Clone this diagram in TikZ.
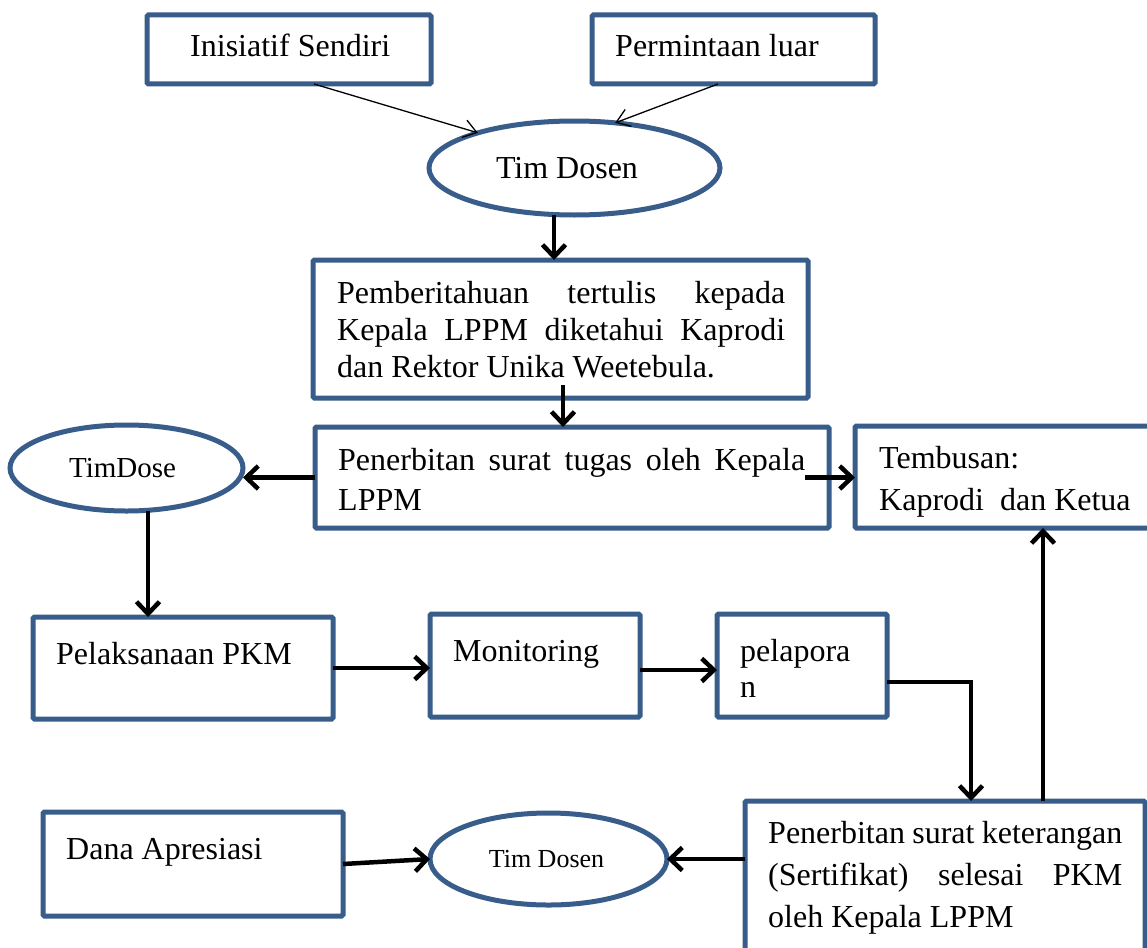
\documentclass[tikz,border=0pt]{standalone}
\usepackage{fontspec}
\setmainfont{Liberation Serif}
\usetikzlibrary{arrows.meta,calc,shapes.geometric}
\definecolor{boxblue}{HTML}{385D8A}
\begin{document}
\begin{tikzpicture}[x=1pt,y=-1pt,
  box/.style={draw=boxblue, line width=5pt, rounded corners=1.5pt, rectangle, anchor=north west, inner sep=0pt, outer sep=0pt},
  ell/.style={draw=boxblue, line width=5pt, ellipse, inner sep=0pt, outer sep=0pt},
  txt/.style={inner sep=0pt, anchor=base west, font=\fontsize{32}{37}\selectfont},
  thinarr/.style={line width=1.3pt, -{Straight Barb[length=13pt,width=18pt]}},
  arr/.style={line width=4.5pt, -{Straight Barb[length=12pt,width=23pt]}}]
\useasboundingbox (0,0) rectangle (1147,947);
\clip (0,0) rectangle (1147,947);
\fill[white] (0,0) rectangle (1147,947);

% boxes
\node[box, minimum width=284pt, minimum height=69pt] (ini) at (147,15) {};
\node[box, minimum width=283pt, minimum height=69pt] (per) at (592,15) {};
\node[box, minimum width=495pt, minimum height=138pt] (pem) at (313,260) {};
\node[box, minimum width=514pt, minimum height=101pt] (tug) at (315,427) {};
\node[box, minimum width=330pt, minimum height=102pt] (tem) at (855,426) {};
\node[box, minimum width=300pt, minimum height=102pt] (pel) at (33,617) {};
\node[box, minimum width=210pt, minimum height=103pt] (mon) at (430,614) {};
\node[box, minimum width=170pt, minimum height=103pt] (lap) at (717,614) {};
\node[box, minimum width=400pt, minimum height=170pt] (cert) at (745,801) {};
\node[box, minimum width=300pt, minimum height=104pt] (dana) at (43,812) {};

% ellipses
\node[ell, minimum width=291pt, minimum height=94pt, font=\fontsize{32}{37}\selectfont] (tim) at (574.5,168) {\kern-15pt Tim Dosen};
\node[ell, minimum width=233pt, minimum height=86pt, font=\fontsize{29}{33}\selectfont] (tdo) at (126.5,468) {\kern-8pt TimDose};
\node[ell, minimum width=237pt, minimum height=92pt, font=\fontsize{26}{30}\selectfont] (tdb) at (548.5,859) {\kern-4pt Tim Dosen};

% texts
\node[txt] (iniT) at (190,57) {Inisiatif Sendiri};
\node[txt] (perT) at (615,57) {Permintaan luar};
\node[txt] (pemT) at (337,303) {\parbox[t]{448pt}{\fontsize{32}{37}\selectfont
  \makebox[448pt][s]{Pemberitahuan tertulis kepada}\\
  \makebox[448pt][s]{Kepala LPPM diketahui Kaprodi}\\
  dan Rektor Unika Weetebula.}};
\node[txt] (tugT) at (338,470) {\parbox[t]{467pt}{\fontsize{32}{40}\selectfont
  \makebox[467pt][s]{Penerbitan surat tugas oleh Kepala}\\
  LPPM}};
\node[txt] (temT) at (879,468) {\parbox[t]{280pt}{\fontsize{32}{42}\selectfont
  Tembusan:\\
  Kaprodi\ \ dan Ketua}};
\node[txt] (pelT) at (56,664) {Pelaksanaan PKM};
\node[txt] (monT) at (453,661) {Monitoring};
\node[txt] (lapT) at (740,661) {\parbox[t]{140pt}{\fontsize{32}{36}\selectfont
  pelapora\\
  n}};
\node[txt] (certT) at (768,843) {\parbox[t]{354pt}{\fontsize{32}{42}\selectfont
  \makebox[354pt][s]{Penerbitan surat keterangan}\\
  \makebox[354pt][s]{(Sertifikat) selesai PKM}\\
  oleh Kepala LPPM}};
\node[txt] (danaT) at (66,859) {Dana Apresiasi};

% connectors
\draw[thinarr] ($(ini.south)+(25,0)$) -- (tim.160);
\draw[thinarr] ($(per.south)+(-15.5,0)$) -- (tim.48);
\draw[arr] ($(tim.south)+(-20.5,0)$) -- ($(pem.north)+(-6.5,0)$);
\draw[arr] ($(pem.south)+(2.5,-13)$) -- ($(tug.north)+(-9,0)$);
\draw[arr] (tug.west) -- (tug.west -| tdo.east);
\draw[arr] ($(tug.east)+(-24,0)$) -- (tug.east -| tem.west);
\draw[arr] ($(tdo.south)+(21.5,0)$) -- ($(pel.north)+(-35,0)$);
\draw[arr] (pel.east) -- (pel.east -| mon.west);
\coordinate (m1) at ($(mon.east)+(0,4.5)$);
\draw[arr] (m1) -- (m1 -| lap.west);
\coordinate (l1) at ($(lap.east)+(0,16.5)$);
\coordinate (c0) at ($(cert.north)+(26,0)$);
\draw[arr] (l1) -| (c0);
\coordinate (c1) at ($(cert.north)+(98,0)$);
\draw[arr] (c1) -- (c1 |- tem.south);
\coordinate (c2) at ($(cert.west)+(0,-27)$);
\draw[arr] (c2) -- (c2 -| tdb.east);
\draw[arr] (dana.east) -- (tdb.west);
\end{tikzpicture}
\end{document}
